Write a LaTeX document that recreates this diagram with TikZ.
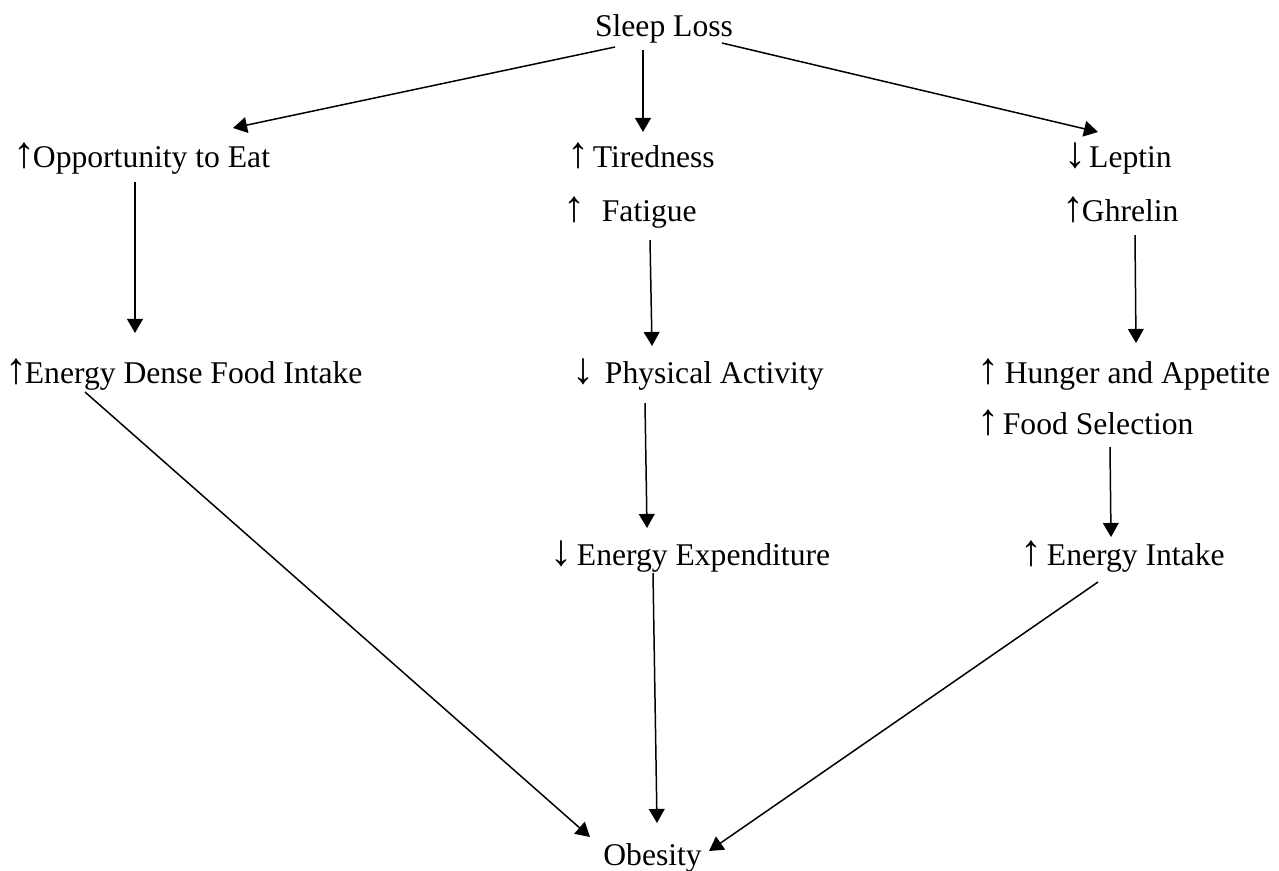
\documentclass[tikz,border=0pt]{standalone}
\usepackage{fontspec}
\setmainfont{Liberation Serif}
\usetikzlibrary{arrows.meta}
\usetikzlibrary{calc}

\newcommand{\inc}{\makebox[10pt][c]{\fontsize{25}{25}\selectfont\bfseries ↑}}
\newcommand{\dec}{\makebox[10pt][c]{\fontsize{25}{25}\selectfont\bfseries ↓}}

\begin{document}
\begin{tikzpicture}[x=0.02cm,y=-0.02cm,
    lbl/.style={inner sep=0pt,anchor=base west,font=\fontsize{18}{21}\selectfont},
    link/.style={-{Triangle[length=8pt,width=9pt]},line width=0.85pt}]
            \useasboundingbox (0,0) rectangle (1279,870);
            % top
            \node[lbl,anchor=base] (sleep) at (664,36){Sleep Loss};
            % left column
            \node[lbl] (opp) at (15,167){\inc Opportunity to Eat};
            \node[lbl] (dense) at (7,383){\inc Energy Dense Food Intake};
            % middle column
            \node[lbl] (tired) at (569,167){\inc\hspace{3.4pt}Tiredness};
            \node[lbl] (fatigue) at (565,221){\inc\hspace{10.8pt}Fatigue};
            \node[lbl] (phys) at (574,383){\dec\hspace{7.4pt}Physical Activity};
            \node[lbl] (expend) at (552,565){\dec\hspace{4pt}Energy Expenditure};
            % right column
            \node[lbl] (leptin) at (1066,167){\dec\hspace{3pt}Leptin};
            \node[lbl] (ghrelin) at (1064,221){\inc Ghrelin};
            \node[lbl] (hunger) at (979,383){\inc\hspace{4.5pt}Hunger and Appetite};
            \node[lbl] (food) at (979,434){\inc\hspace{3.4pt}Food Selection};
            \node[lbl] (intake) at (1022,565){\inc\hspace{4pt}Energy Intake};
            % bottom
            \node[lbl] (obesity) at (603,865){Obesity};

            \draw[link] ($(sleep.base)+(-49,11)$) -- ($(opp.base west)+(218,-39)$);
            \draw[link] ($(sleep.base)+(-21,14)$) -- ($(tired.base west)+(74,-35)$);
            \draw[link] ($(sleep.base)+(58,7)$) -- ($(leptin.base west)+(32,-35)$);
            \draw[link] ($(opp.base west)+(120,15)$) -- ($(dense.base west)+(128,-50)$);
            \draw[link] ($(fatigue.base west)+(85,19)$) -- ($(phys.base west)+(78,-37)$);
            \draw[link] ($(ghrelin.base west)+(71,14)$) -- ($(hunger.base west)+(157,-40)$);
            \draw[link] ($(phys.base west)+(71,20)$) -- ($(expend.base west)+(95,-37)$);
            \draw[link] ($(food.base west)+(131,13)$) -- ($(intake.base west)+(89,-28)$);
            \draw[link] ($(dense.base west)+(78,9)$) -- ($(obesity.base west)+(-13,-28)$);
            \draw[link] ($(expend.base west)+(101,8)$) -- ($(obesity.base west)+(54,-42)$);
            \draw[link] ($(intake.base west)+(76,17)$) -- ($(obesity.base west)+(106,-14)$);
\end{tikzpicture}
\end{document}
